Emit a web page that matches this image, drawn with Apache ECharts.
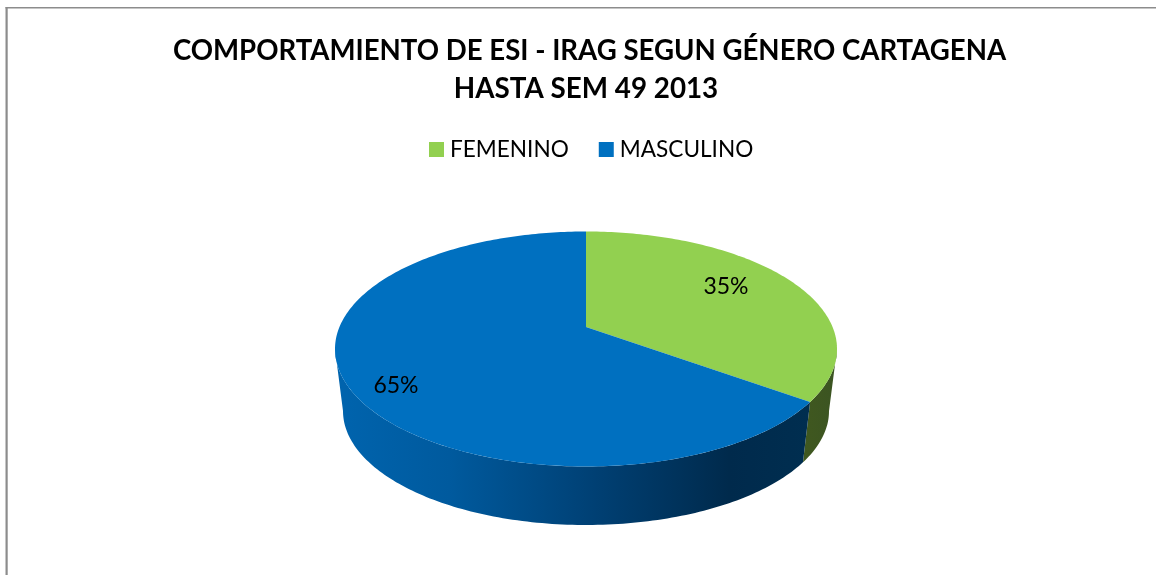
<!DOCTYPE html>
<html>
<head>
<meta charset="utf-8">
<style>html,body{margin:0;padding:0;background:#fff}#c{width:1156px;height:575px}</style>
<script src="https://cdn.jsdelivr.net/npm/echarts@6/dist/echarts.min.js"></script>
</head>
<body>
<div id="c"></div>
<script>
const categories = ['FEMENINO', 'MASCULINO'];
const percentages = [35, 65];
const titleLines = ['COMPORTAMIENTO DE ESI - IRAG SEGUN GÉNERO CARTAGENA', 'HASTA SEM 49 2013'];

const faceColors = ['#92D050', '#0070C0'];
const sideFills = [
  [[0, '#40581F'], [1, '#3B5422']],
  [[0, '#0064AE'], [0.24, '#005A9E'], [0.56, '#003F72'], [0.83, '#002A4C'], [1, '#002E50']]
];
const labelPositions = [[726, 286.5], [396, 386]];
const TOP = { cx: 586, cy: 349, rx: 251, ry: 117.5 };
const BOTTOM = { cx: 586, cy: 411, rx: 243, ry: 114 };
const TILT = 0.187;
// Angles, clockwise from the top, where the visible rim starts and ends.
const RIM_START = 90 + Math.asin(TILT) * 180 / Math.PI;
const RIM_END = 360 - RIM_START;

const total = percentages.reduce((a, b) => a + b, 0);
function startAngle(i) {
  let s = 0;
  for (let k = 0; k < i; k++) s += percentages[k];
  return s / total * 360;
}
// Projects a clockwise-from-top angle on the pie disc to the tilted ellipse.
function project(deg, e, r) {
  const t = deg * Math.PI / 180;
  const u = r * Math.sin(t), v = -r * Math.cos(t);
  const d = 1 - TILT * v;
  return [e.cx + e.rx * u * Math.sqrt(1 - TILT * TILT) / d, e.cy + e.ry * (v - TILT) / d];
}
function arc(a0, a1, e) {
  const pts = [];
  const n = Math.max(1, Math.ceil(a1 - a0));
  for (let i = 0; i <= n; i++) pts.push(project(a0 + (a1 - a0) * i / n, e, 1));
  return pts;
}
function renderSlice(params, api) {
  const i = params.seriesIndex;
  const a0 = startAngle(i);
  const a1 = a0 + api.value(0) / total * 360;
  const r0 = Math.max(a0, RIM_START), r1 = Math.min(a1, RIM_END);
  const rim = arc(r0, r1, TOP).concat(arc(r0, r1, BOTTOM).reverse());
  const pos = labelPositions[i];
  return {
    type: 'group',
    children: [
      {
        type: 'polygon', z2: 1, silent: true,
        shape: { points: rim },
        style: { fill: new echarts.graphic.LinearGradient(0, 0, 1, 0, sideFills[i].map(s => ({ offset: s[0], color: s[1] }))) }
      },
      {
        type: 'polygon', z2: 10, silent: true,
        shape: { points: [project(0, TOP, 0)].concat(arc(a0, a1, TOP)) },
        style: { fill: faceColors[i] }
      },
      {
        type: 'text', z2: 20, silent: true,
        x: pos[0], y: pos[1],
        style: { text: api.value(0) + '%', fill: '#000', font: '23px Lato', align: 'center', verticalAlign: 'middle' }
      }
    ]
  };
}
const chart = echarts.init(document.getElementById('c'), null, { renderer: 'canvas' });
chart.setOption({
  animation: false,
  backgroundColor: '#fff',
  title: [
    { text: titleLines[0], left: 584.5, top: 32, textAlign: 'center', textStyle: { fontFamily: 'Lato', fontWeight: 'bold', fontSize: 27.6, color: '#000' } },
    { text: titleLines[1], left: 581, top: 70, textAlign: 'center', textStyle: { fontFamily: 'Lato', fontWeight: 'bold', fontSize: 27.8, color: '#000' } }
  ],
  legend: {
    left: 424, top: 133, icon: 'rect', itemWidth: 15, itemHeight: 15, itemGap: 30,
    data: categories, selectedMode: false,
    textStyle: { fontFamily: 'Lato', fontSize: 22.6, color: '#000', padding: [0, 0, 0, 1] }
  },
  series: categories.map((name, i) => ({
    type: 'custom', name, coordinateSystem: 'none', silent: true,
    itemStyle: { color: faceColors[i] },
    renderItem: renderSlice,
    data: [percentages[i]]
  })),
  graphic: [
    { type: 'rect', silent: true, shape: { x: 5.5, y: 7, width: 1150.5, height: 1.5 }, style: { fill: '#8c8c8c' } },
    { type: 'rect', silent: true, shape: { x: 5.5, y: 7, width: 2.2, height: 568 }, style: { fill: '#8c8c8c' } }
  ]
});
</script>
</body>
</html>
